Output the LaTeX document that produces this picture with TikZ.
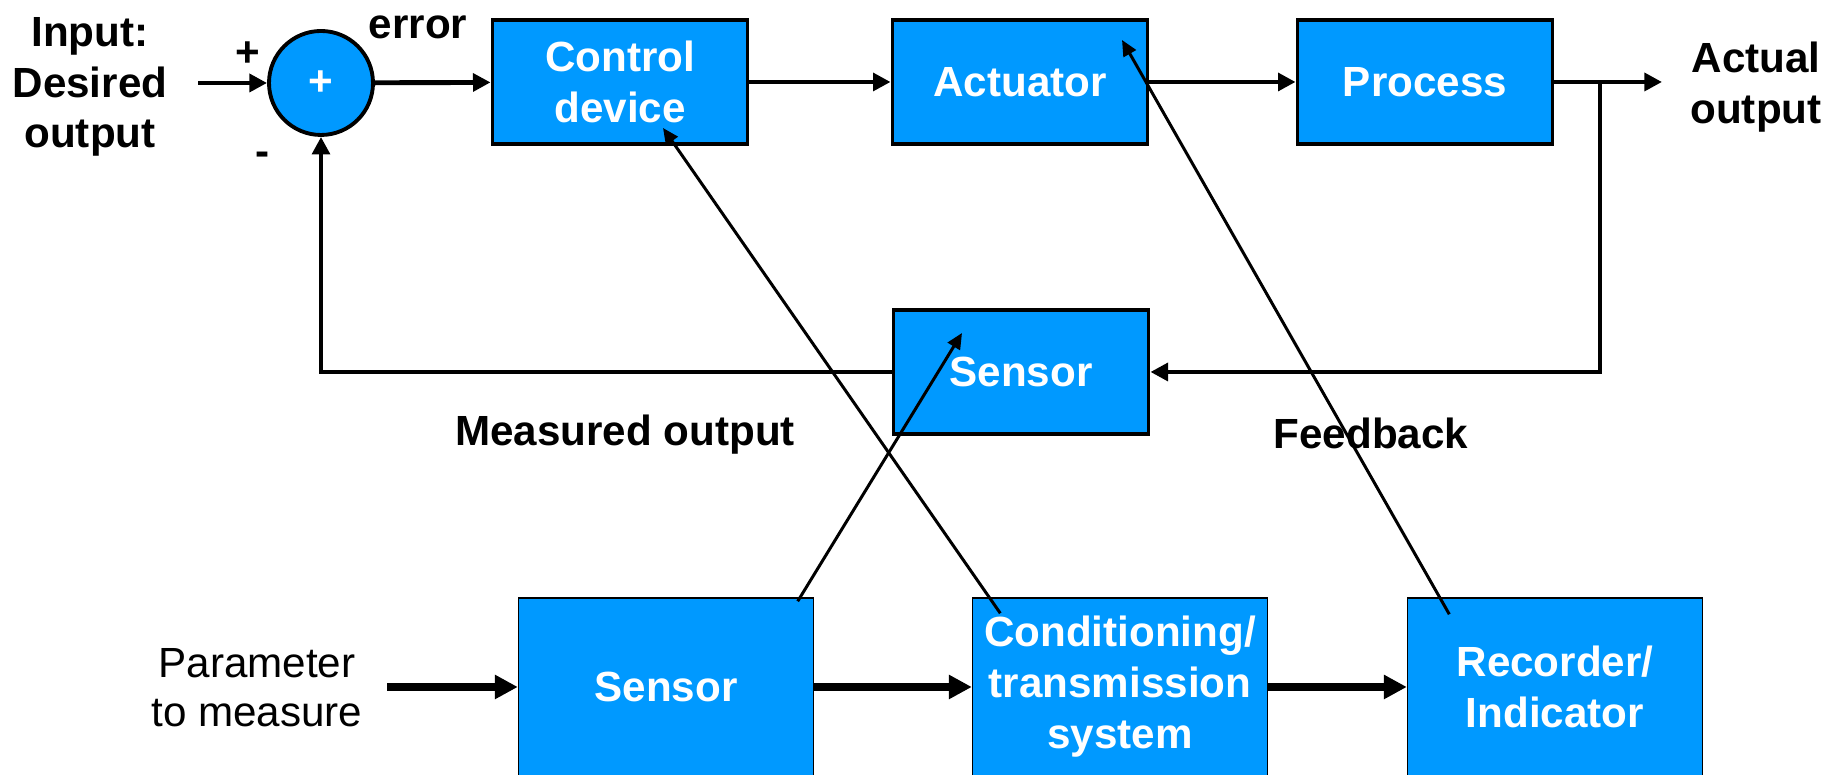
\documentclass[tikz,border=0pt]{standalone}
\usepackage{fontspec}
\setmainfont{Liberation Sans}
\usetikzlibrary{arrows.meta}
\definecolor{boxblue}{RGB}{0,153,255}
\tikzset{
	blk/.style = {draw, line width = 1.1pt, fill = boxblue, text = white, font = \bfseries\fontsize{12}{14.5}\selectfont, align = center, minimum width = 2.55cm, minimum height = 1.24cm, inner sep = 0pt},
	mblk/.style = {blk, line width = 0.4pt, minimum width = 2.95cm, minimum height = 1.78cm},
	lbl/.style = {font = \bfseries\fontsize{12}{14.3}\selectfont, align = center, inner sep = 0pt},
	sig/.style = {line width = 1.4pt, -{Triangle[length = 5pt, width = 5pt]}},
	msig/.style = {line width = 2.3pt, -{Triangle[length = 6.5pt, width = 6.5pt]}},
	diag/.style = {line width = 0.85pt, -{Triangle[length = 4.5pt, width = 4pt]}}
}
\begin{document}
\begin{tikzpicture}
		\useasboundingbox (0, 0) rectangle (18.48, 7.75);
		%%%%%%%%%%%%%
		\node [circle, draw, line width = 1.1pt, fill = boxblue, minimum size = 1.04cm, inner sep = 0pt, text = white, font = \bfseries\fontsize{12}{14}\selectfont] (sum) at (3.21, 6.92) {+};
		\node [blk] (ctrl) at (6.20, 6.93) {Control\\device};
		\node [blk] (act) at (10.20, 6.93) {Actuator};
		\node [blk] (proc) at (14.25, 6.93) {Process};
		\node [blk] (sens) at (10.21, 4.03) {Sensor};
		\node [mblk] (msens) at (6.66, 0.88) {Sensor};
		\node [mblk] (cond) at (11.20, 0.88) {Conditioning/\\transmission\\system};
		\node [mblk] (rec) at (15.55, 0.88) {Recorder/\\Indicator};
		%%%%%%%%%%%%%
		\node [lbl] (lin) at (0.90, 6.88) {Input:\\Desired\\output};
		\node [lbl] (lplus) at (2.48, 7.21) {+};
		\node [lbl] (lminus) at (2.63, 6.16) {-};
		\node [lbl] (lerr) at (4.18, 7.48) {error};
		\node [lbl] (lout) at (17.56, 6.88) {Actual\\output};
		\node [lbl] (lmeas) at (6.25, 3.40) {Measured output};
		\node [lbl] (lfb) at (13.71, 3.42) {Feedback};
		\node [align = center, inner sep = 0pt, font = \fontsize{12}{14}\selectfont] (lpar) at (2.57, 0.87) {Parameter\\to measure};
		%%%%%%%%%%%%%
		\coordinate (in) at (1.98, 6.92);
		\coordinate (out) at (16.62, 6.93);
		\coordinate (br) at (16.00, 6.93);
		\coordinate (par) at (3.87, 0.88);
		%%%%%%%%%%%%%
		\draw [sig] (in) to (sum); \draw [sig] (sum) to (ctrl);
		\draw [sig] (ctrl) to (act); \draw [sig] (act) to (proc);
		\draw [sig] (proc) to (out);
		\draw [sig] (br) |- (sens);
		\draw [sig] (sens) -| (sum);
		\draw [msig] (par) to (msens); \draw [msig] (msens) to (cond);
		\draw [msig] (cond) to (rec);
		\draw [diag] ([shift = {(-0.165, -0.04)}] msens.north east) -- ([shift = {(-0.59, 0.39)}] sens.center);
		\draw [diag] ([shift = {(0.285, -0.16)}] cond.north west) -- ([shift = {(0.43, -0.46)}] ctrl.center);
		\draw [diag] ([shift = {(0.425, -0.17)}] rec.north west) -- ([shift = {(1.02, 0.42)}] act.center);
\end{tikzpicture}
\end{document}
